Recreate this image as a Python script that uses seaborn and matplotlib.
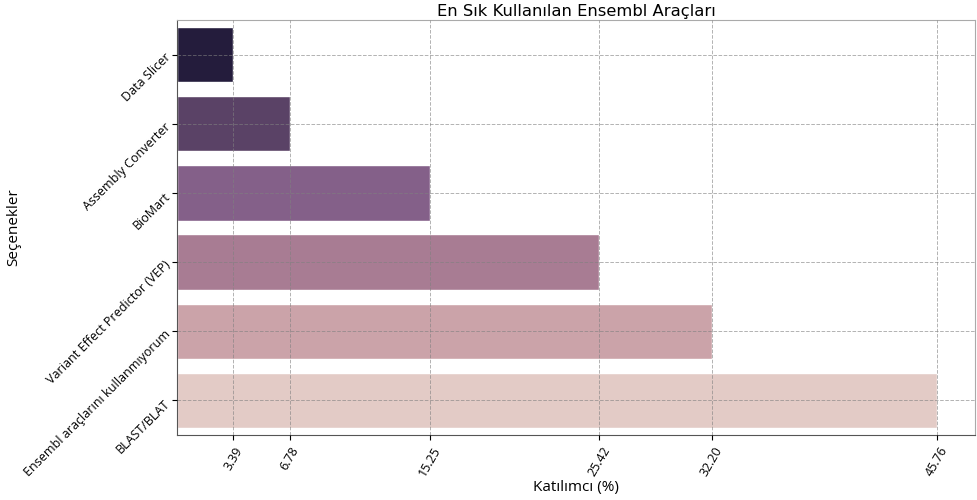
import matplotlib
matplotlib.use("Agg")
import matplotlib.pyplot as plt
import seaborn as sns
import numpy as np

# survey answers, ordered smallest to largest
options = ["Data Slicer", "Assembly Converter", "BioMart",
           "Variant Effect Predictor (VEP)", "Ensembl araçlarını kullanmıyorum",
           "BLAST/BLAT"]
percent = [3.39, 6.78, 15.25, 25.42, 32.20, 45.76]

plt.rcParams['font.family'] = ['Open Sans', 'DejaVu Sans']

fig = plt.figure(figsize=[9.78, 5], dpi=100)
ax = fig.add_subplot(111)

# colours (dark cubehelix to light)
palette = ['#241c3c', '#5a4266', '#846089', '#a87c93', '#cba3a9', '#e3cbc6']
sns.barplot(x=percent, y=options, hue=options, palette=palette, saturation=1,
            legend=False, ax=ax, edgecolor='white', linewidth=1)

ax.set_title('En Sık Kullanılan Ensembl Araçları', family='DejaVu Sans',
             fontsize=11.8, pad=3)
ax.set_xlabel('Katılımcı (%)', fontsize=11, labelpad=1)
ax.set_ylabel('Seçenekler', fontsize=11, labelpad=0)

ax.set_xticks(percent)
ax.set_xticklabels([f'{v:.2f}' for v in percent], rotation=60, fontsize=9)
plt.setp(ax.get_yticklabels(), rotation=45, fontsize=9, ha='right', rotation_mode='anchor')
ax.set_xlim(0, max(percent) * 1.05)

ax.grid(True, linestyle='--', color='gray', alpha=0.6, linewidth=0.7)
ax.set_axisbelow(False)
for s in ax.spines.values():
    s.set_color('#555555')
ax.spines['top'].set_color('#aaaaaa')
ax.spines['right'].set_color('#aaaaaa')

plt.subplots_adjust(left=0.181, right=0.997, top=0.96, bottom=0.13)
fig.savefig('out.png', dpi=100)
